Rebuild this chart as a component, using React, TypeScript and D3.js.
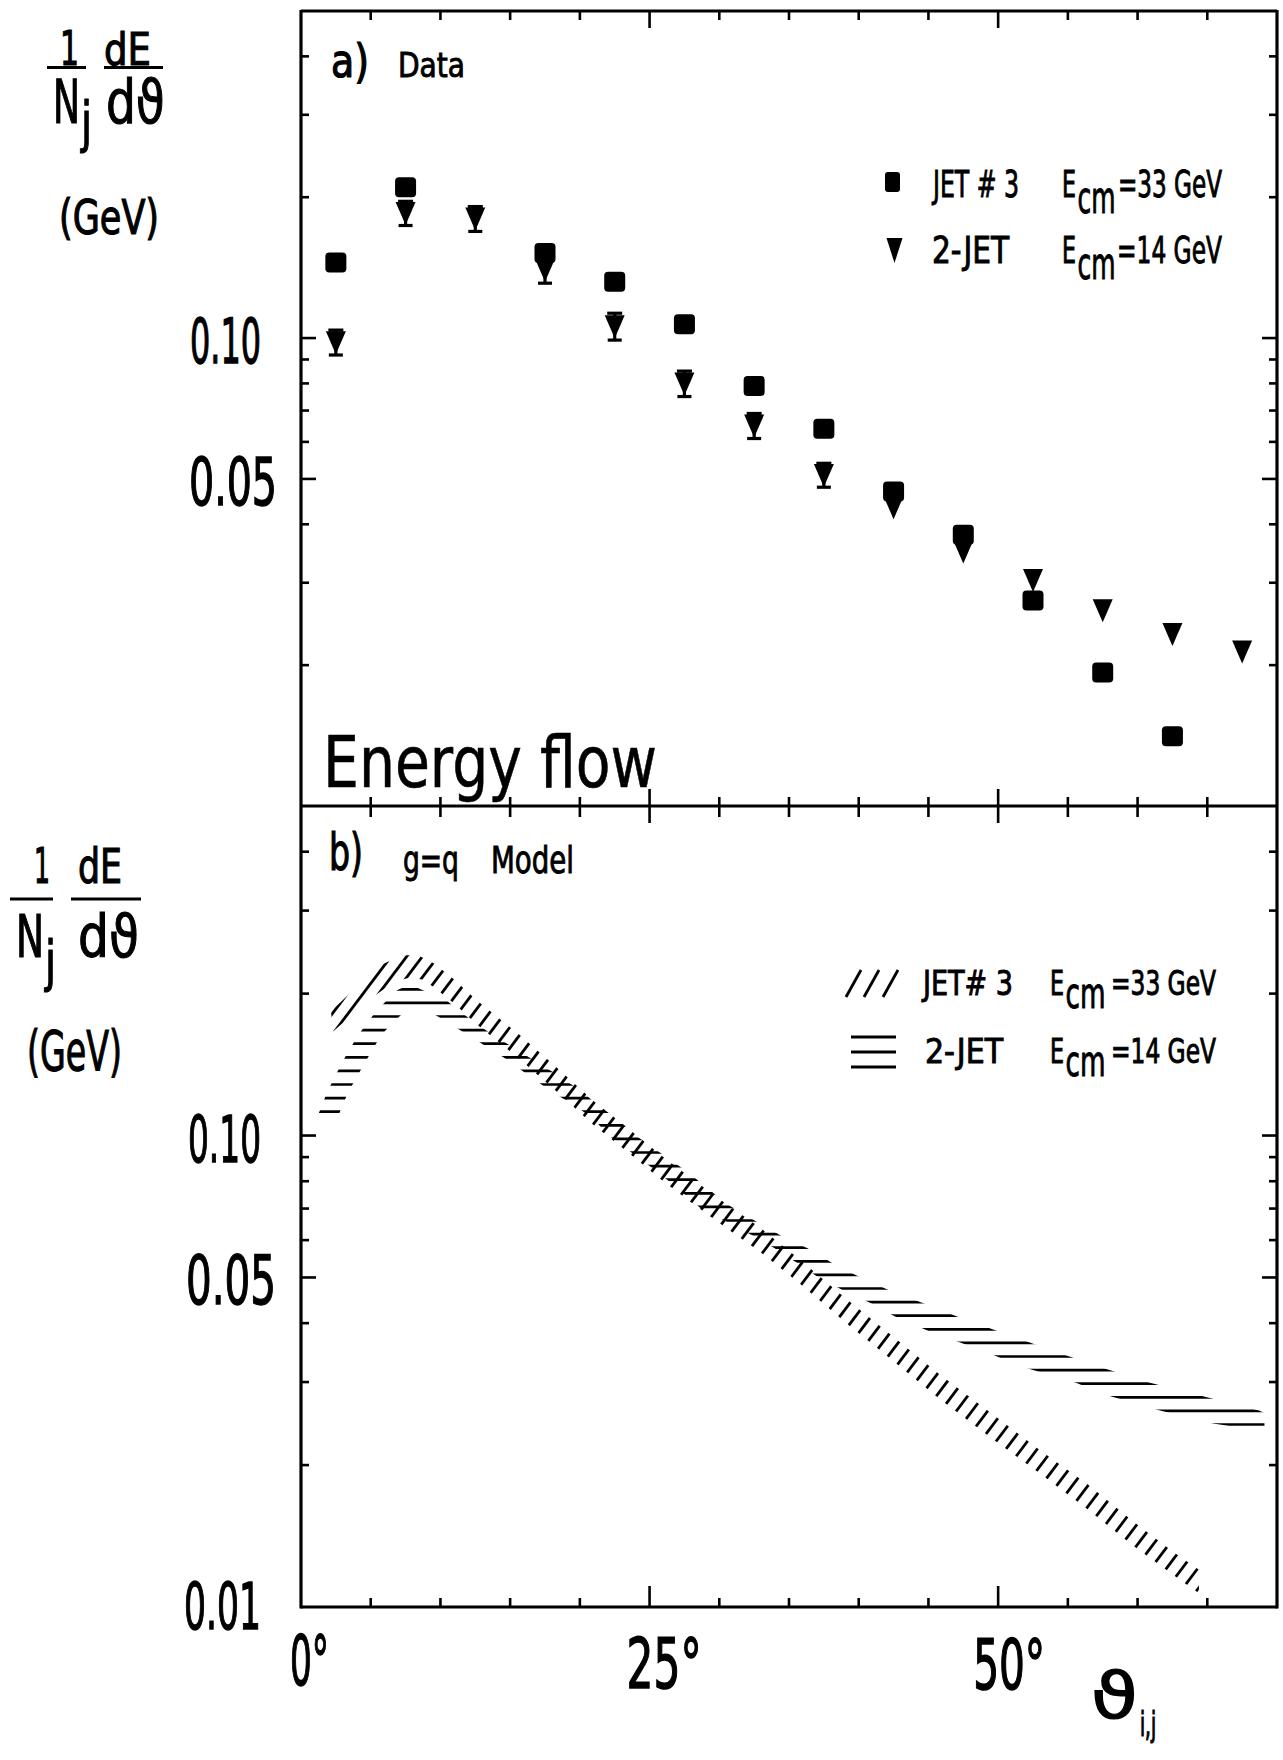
import React from 'react';
import * as d3 from 'd3';

const W = 1283;
const H = 1760;

// ---------- data ----------
// panel a) measured energy flow
const twoJetAngles = [2.5, 7.5, 12.5, 17.5, 22.5, 27.5, 32.5, 37.5, 42.5, 47.5, 52.5, 57.5, 62.5, 67.5];
const twoJetValues = [0.098, 0.185, 0.180, 0.140, 0.106, 0.080, 0.065, 0.051, 0.0435, 0.035, 0.0304, 0.0262, 0.0233, 0.0214];
const twoJetErrors = [0.006, 0.011, 0.011, 0.009, 0.007, 0.005, 0.004, 0.003, 0, 0, 0, 0, 0, 0];

const jet3Angles = [2.5, 7.5, 17.5, 22.5, 27.5, 32.5, 37.5, 42.5, 47.5, 52.5, 57.5, 62.5];
const jet3Values = [0.145, 0.210, 0.152, 0.132, 0.107, 0.079, 0.064, 0.047, 0.038, 0.0275, 0.0193, 0.0141];

// panel b) model bands
const jet3BandUpperDeg = [2.15, 3.44, 5.81, 7.24, 8.39, 9.54, 10.9, 12.62, 15.71, 18.58, 20.94, 23.38, 25.75, 28.11, 30.55, 32.92, 35.79, 39.16, 42.39, 45.83, 49.63, 53.0, 56.44, 59.67, 62.54, 64.4];
const jet3BandUpper = [0.1834, 0.1993, 0.2307, 0.2411, 0.2411, 0.2318, 0.2154, 0.1935, 0.1631, 0.1374, 0.1187, 0.104, 0.0911, 0.0807, 0.0714, 0.0638, 0.0545, 0.0449, 0.0376, 0.0311, 0.0256, 0.0215, 0.0182, 0.0152, 0.0131, 0.0120];
const jet3BandLowerDeg = [2.3, 5.09, 6.74, 7.82, 8.68, 9.54, 10.9, 12.62, 15.71, 18.58, 20.94, 23.38, 25.75, 28.11, 30.55, 32.92, 35.79, 39.16, 42.39, 45.83, 49.63, 53.0, 56.44, 59.67, 62.54, 64.4];
const jet3BandLower = [0.1663, 0.1963, 0.2123, 0.2165, 0.2144, 0.2062, 0.1916, 0.1721, 0.145, 0.1222, 0.1055, 0.0925, 0.081, 0.0717, 0.0635, 0.0567, 0.0485, 0.0399, 0.0334, 0.0276, 0.0227, 0.0192, 0.0161, 0.0135, 0.0117, 0.0107];

const twoJetBandUpperDeg = [1.25, 1.86, 2.94, 4.09, 5.38, 6.89, 7.8, 8.75, 10.54, 11.19, 12.48, 13.7, 16.2, 18.58, 20.22, 21.23, 22.52, 24.1, 27.68, 30.56, 32.95, 34.57, 36.36, 38.16, 39.88, 42.1, 44.54, 47.05, 50.49, 53.5, 57.3, 60.89, 64.48, 68.71, 69.1];
const twoJetBandUpper = [0.111, 0.1234, 0.1429, 0.1631, 0.1834, 0.2032, 0.209, 0.2032, 0.1925, 0.1851, 0.1737, 0.1638, 0.1475, 0.1335, 0.1234, 0.1164, 0.1092, 0.0995, 0.0839, 0.0715, 0.0649, 0.061, 0.0576, 0.0535, 0.0504, 0.0471, 0.0442, 0.0413, 0.038, 0.0353, 0.0323, 0.0299, 0.0281, 0.0261, 0.0258];
const twoJetBandLowerDeg = [1.25, 2.65, 3.37, 4.59, 5.74, 6.6, 7.46, 8.2, 8.97, 10.54, 11.91, 13.41, 14.99, 16.42, 18.07, 19.51, 20.87, 22.16, 25.53, 26.68, 28.62, 30.8, 32.56, 34.0, 35.65, 36.94, 38.8, 40.81, 42.6, 45.47, 48.55, 51.78, 55.58, 57.88, 61.61, 65.41, 69.1];
const twoJetBandLower = [0.1075, 0.1097, 0.1234, 0.1429, 0.1631, 0.1737, 0.1834, 0.188, 0.1851, 0.1737, 0.1638, 0.1538, 0.1436, 0.1335, 0.1234, 0.1164, 0.1092, 0.0995, 0.0839, 0.0787, 0.0703, 0.065, 0.061, 0.0576, 0.0535, 0.0504, 0.0471, 0.0442, 0.0413, 0.038, 0.0353, 0.0323, 0.0299, 0.0281, 0.0261, 0.0245, 0.0236];

// ticks
const yMajorTicksTop = [0.10, 0.05];
const yMajorTicksBottom = [0.10, 0.05, 0.01];
const yMinorTicks = [0.02, 0.03, 0.04, 0.06, 0.07, 0.08, 0.09, 0.2, 0.3, 0.4];
const xMajorTicks = [0, 25, 50];
const xMinorTicks = [5, 10, 15, 20, 30, 35, 40, 45, 55, 60, 65];

// ---------- scales ----------
const x = d3.scaleLinear().domain([0, 70]).range([301, 1277]);
const yTop = d3.scaleLog().domain([0.01, 0.5]).range([806, 11]);
const yBot = d3.scaleLog().domain([0.01, 0.5]).range([1607, 806]);

const FONT = "'DejaVu Sans Condensed', 'Liberation Sans Narrow', 'DejaVu Sans', sans-serif";
const FONT_WIDE = "'DejaVu Sans', 'Open Sans', sans-serif";
const fmt = d3.format('.2f');

function T({ x: tx, y: ty, w, size, children, family, sw }: any) {
  return (
    <text x={tx} y={ty} fontSize={size} textLength={w} lengthAdjust="spacingAndGlyphs"
      fontFamily={family || FONT} fill="#000" stroke="#000" strokeWidth={sw ?? 0.9}>{children}</text>
  );
}

// a text made of positioned parts (main + subscript) in one element
function Parts({ parts, sw }: any) {
  return (
    <text fontFamily={FONT} fill="#000" stroke="#000" strokeWidth={sw ?? 0.9}>
      {parts.map((p: any, i: number) => (
        <tspan key={i} x={p.x} y={p.y} fontSize={p.size} textLength={p.w} lengthAdjust="spacingAndGlyphs">{p.t}</tspan>
      ))}
    </text>
  );
}

function bandPath(upD: number[], upV: number[], loD: number[], loV: number[], y: any) {
  const pts: [number, number][] = upD.map((d, i) => [x(d), y(upV[i])] as [number, number])
    .concat(loD.map((d, i) => [x(d), y(loV[i])] as [number, number]).reverse());
  return (d3.line()(pts) as string) + 'Z';
}

function diagonalHatch(angleDeg: number, spacing: number) {
  const a = (angleDeg * Math.PI) / 180;
  const s = Math.sin(a), c = Math.cos(a);
  const cmin = s * 301 + c * 806;
  const cmax = s * 1277 + c * 1607;
  const lines: number[][] = [];
  for (let k = cmin; k <= cmax; k += spacing) {
    const px = s * k, py = c * k;
    lines.push([px - 2500 * c, py + 2500 * s, px + 2500 * c, py - 2500 * s]);
  }
  return lines;
}

function horizontalHatch(start: number, spacing: number, stop: number) {
  const ys: number[] = [];
  for (let y = start; y >= stop; y -= spacing) ys.push(y);
  return ys;
}

function YTicks({ y, majors }: any) {
  const els: any[] = [];
  majors.forEach((v: number, i: number) => {
    els.push(<line key={'ml' + i} x1={x(0)} x2={x(0) + 15} y1={y(v)} y2={y(v)} />);
    els.push(<line key={'mr' + i} x1={x(70)} x2={x(70) - 15} y1={y(v)} y2={y(v)} />);
  });
  yMinorTicks.forEach((v, i) => {
    els.push(<line key={'nl' + i} x1={x(0)} x2={x(0) + 8} y1={y(v)} y2={y(v)} />);
    els.push(<line key={'nr' + i} x1={x(70)} x2={x(70) - 8} y1={y(v)} y2={y(v)} />);
  });
  return <g stroke="#000" strokeWidth={2.6}>{els}</g>;
}

export default function App() {
  const jet3Poly = bandPath(jet3BandUpperDeg, jet3BandUpper, jet3BandLowerDeg, jet3BandLower, yBot);
  const twoJetPoly = bandPath(twoJetBandUpperDeg, twoJetBandUpper, twoJetBandLowerDeg, twoJetBandLower, yBot);
  const diag = diagonalHatch(53, 12.5);
  const horiz = horizontalHatch(1424.5, 13.6, 820);

  const xTickEls: any[] = [];
  const addX = (v: number, major: boolean, key: string) => {
    const xx = x(v);
    const lTop = major ? 17 : 9;
    const lDivUp = major ? 17 : 9;
    const lDivDn = major ? 17 : 11;
    const lBot = major ? 21 : 9;
    xTickEls.push(<line key={key + 't'} x1={xx} x2={xx} y1={11} y2={11 + lTop} />);
    xTickEls.push(<line key={key + 'u'} x1={xx} x2={xx} y1={806} y2={806 - lDivUp} />);
    xTickEls.push(<line key={key + 'd'} x1={xx} x2={xx} y1={806} y2={806 + lDivDn} />);
    xTickEls.push(<line key={key + 'b'} x1={xx} x2={xx} y1={1607} y2={1607 - lBot} />);
  };
  xMajorTicks.filter((v) => v > 0).forEach((v) => addX(v, true, 'M' + v));
  xMinorTicks.forEach((v) => addX(v, false, 'm' + v));

  return (
    <svg width={W} height={H} viewBox={`0 0 ${W} ${H}`}
      style={{ position: 'absolute', left: 0, top: 0, display: 'block', background: '#fff' }}>
      <rect x={0} y={0} width={W} height={H} fill="#fff" />
      <defs>
        <clipPath id="clipJet3"><path d={jet3Poly} /></clipPath>
        <clipPath id="clipTwoJet"><path d={twoJetPoly} /></clipPath>
      </defs>

      {/* ---------- panel b) bands ---------- */}
      <g clipPath="url(#clipTwoJet)" stroke="#000" strokeWidth={2.7}>
        {horiz.map((yy, i) => (
          <line key={'h' + i} x1={301} x2={1277} y1={yy} y2={yy} />
        ))}
      </g>
      <g clipPath="url(#clipJet3)" stroke="#000" strokeWidth={2.8}>
        {diag.map((l, i) => (
          <line key={'dg' + i} x1={l[0]} y1={l[1]} x2={l[2]} y2={l[3]} />
        ))}
      </g>

      {/* ---------- panel a) markers ---------- */}
      <g fill="#000">
        {jet3Angles.map((a, i) => (
          <rect key={'sq' + i} x={x(a) - 10.5} y={yTop(jet3Values[i]) - 10} width={21} height={20} rx={4} />
        ))}
        {twoJetAngles.map((a, i) => {
          const cx = x(a);
          const cy = yTop(twoJetValues[i]);
          const e = twoJetErrors[i];
          return (
            <g key={'tr' + i}>
              <path d={`M${cx - 10},${cy - 11} L${cx + 10},${cy - 11} L${cx},${cy + 12} Z`} />
              {e > 0 && (
                <g stroke="#000" strokeWidth={3.2}>
                  <line x1={cx} x2={cx} y1={yTop(twoJetValues[i] + e)} y2={yTop(twoJetValues[i] - e)} />
                  <line x1={cx - 7.5} x2={cx + 7.5} y1={yTop(twoJetValues[i] + e)} y2={yTop(twoJetValues[i] + e)} />
                  <line x1={cx - 7} x2={cx + 7} y1={yTop(twoJetValues[i] - e)} y2={yTop(twoJetValues[i] - e)} />
                </g>
              )}
            </g>
          );
        })}
      </g>

      {/* ---------- frames ---------- */}
      <g stroke="#000" strokeWidth={3.2} fill="none">
        <line x1={x(0)} x2={x(0)} y1={10} y2={1608.5} />
        <line x1={x(70)} x2={x(70)} y1={10} y2={1608.5} />
        <line x1={x(0)} x2={x(70)} y1={11} y2={11} />
        <line x1={x(0)} x2={x(70)} y1={806} y2={806} />
        <line x1={x(0)} x2={x(70)} y1={1607} y2={1607} />
      </g>
      <g stroke="#000" strokeWidth={2.6}>{xTickEls}</g>
      <YTicks y={yTop} majors={yMajorTicksTop} />
      <YTicks y={yBot} majors={yMajorTicksBottom.filter((v) => v > 0.01)} />

      {/* ---------- y tick labels ---------- */}
      <T x={190} y={yTop(yMajorTicksTop[0]) + 25} w={71} size={63} sw={1.3}>{fmt(yMajorTicksTop[0])}</T>
      <T x={189} y={yTop(yMajorTicksTop[1]) + 26} w={88} size={66} sw={1.3}>{fmt(yMajorTicksTop[1])}</T>
      <T x={188} y={yBot(yMajorTicksBottom[0]) + 26} w={73} size={64} sw={1.3}>{fmt(yMajorTicksBottom[0])}</T>
      <T x={186} y={yBot(yMajorTicksBottom[1]) + 27} w={90} size={68} sw={1.3}>{fmt(yMajorTicksBottom[1])}</T>
      <T x={184} y={yBot(yMajorTicksBottom[2]) + 22} w={77} size={64} sw={1.3}>{fmt(yMajorTicksBottom[2])}</T>

      {/* ---------- x tick labels ---------- */}
      <T x={x(xMajorTicks[0]) - 11} y={1685} w={39} size={70} sw={1.4}>{`${xMajorTicks[0]}°`}</T>
      <T x={x(xMajorTicks[1]) - 23} y={1688} w={75} size={70} sw={1.4}>{`${xMajorTicks[1]}°`}</T>
      <T x={x(xMajorTicks[2]) - 25} y={1689} w={72} size={70} sw={1.4}>{`${xMajorTicks[2]}°`}</T>
      <Parts sw={1.2} parts={[
        { t: 'ϑ', x: 1091, y: 1718, w: 47, size: 64 },
        { t: 'i,j', x: 1140, y: 1736, w: 16, size: 34 },
      ]} />

      {/* ---------- y axis titles ---------- */}
      <T x={60} y={65} w={19} size={48} sw={1.2}>1</T>
      <T x={104} y={65} w={47} size={45} sw={1.1}>dE</T>
      <line x1={47} x2={86} y1={67.5} y2={67.5} stroke="#000" strokeWidth={2.8} />
      <line x1={104} x2={163} y1={67.5} y2={67.5} stroke="#000" strokeWidth={2.8} />
      <Parts sw={1.1} parts={[
        { t: 'N', x: 53, y: 123, w: 27, size: 60 },
        { t: 'j', x: 81, y: 141, w: 11, size: 56 },
      ]} />
      <T x={106} y={123} w={59} size={60} sw={1.1}>dϑ</T>
      <T x={59} y={234} w={100} size={48} sw={1.1}>(GeV)</T>

      <T x={34} y={883} w={16} size={50} sw={1.2}>1</T>
      <T x={78} y={883} w={44} size={48} sw={1.1}>dE</T>
      <line x1={10} x2={53} y1={899} y2={899} stroke="#000" strokeWidth={2.8} />
      <line x1={71} x2={141} y1={899} y2={899} stroke="#000" strokeWidth={2.8} />
      <Parts sw={1.1} parts={[
        { t: 'N', x: 16, y: 957, w: 28, size: 58 },
        { t: 'j', x: 45, y: 980, w: 11, size: 56 },
      ]} />
      <T x={78} y={957} w={61} size={58} sw={1.1}>dϑ</T>
      <T x={27} y={1070} w={95} size={56} sw={1.1}>(GeV)</T>

      {/* ---------- panel a) annotations ---------- */}
      <T x={331} y={77} w={38} size={46} sw={1.2}>a)</T>
      <T x={398} y={77} w={67} size={34}>Data</T>
      <T x={323} y={787} w={334} size={71} family={FONT_WIDE} sw={0.6}>Energy flow</T>

      <rect x={885} y={172} width={15} height={20} rx={3} fill="#000" />
      <T x={933} y={197} w={86} size={37}>JET # 3</T>
      <Parts parts={[
        { t: 'E', x: 1062, y: 197, w: 14, size: 37 },
        { t: 'cm', x: 1077.5, y: 213, w: 38, size: 44 },
        { t: '=33 GeV', x: 1118, y: 197, w: 104, size: 37 },
      ]} />

      <path d="M886.5,238 L902.5,238 L894.5,263 Z" fill="#000" />
      <T x={932} y={263} w={77} size={37}>2-JET</T>
      <Parts parts={[
        { t: 'E', x: 1062, y: 263, w: 14, size: 37 },
        { t: 'cm', x: 1077.5, y: 279, w: 38, size: 44 },
        { t: '=14 GeV', x: 1117, y: 263, w: 105, size: 37 },
      ]} />

      {/* ---------- panel b) annotations ---------- */}
      <T x={329} y={870} w={34} size={52} sw={1.2}>b)</T>
      <T x={403} y={873} w={56} size={38}>g=q</T>
      <T x={491} y={873} w={83} size={38}>Model</T>

      <g stroke="#000" strokeWidth={2.8}>
        <line x1={846} y1={997} x2={861} y2={970} />
        <line x1={864} y1={997} x2={879} y2={970} />
        <line x1={883} y1={997} x2={898} y2={970} />
        <line x1={851} x2={896} y1={1037} y2={1037} />
        <line x1={851} x2={896} y1={1052} y2={1052} />
        <line x1={851} x2={896} y1={1067} y2={1067} />
      </g>
      <T x={923} y={995} w={90} size={34}>JET# 3</T>
      <Parts parts={[
        { t: 'E', x: 1050, y: 995, w: 14, size: 34 },
        { t: 'cm', x: 1065.5, y: 1008, w: 40, size: 42 },
        { t: '=33 GeV', x: 1111, y: 995, w: 105, size: 34 },
      ]} />
      <T x={925} y={1063} w={78} size={34}>2-JET</T>
      <Parts parts={[
        { t: 'E', x: 1050, y: 1063, w: 14, size: 34 },
        { t: 'cm', x: 1065.5, y: 1076, w: 40, size: 42 },
        { t: '=14 GeV', x: 1111, y: 1063, w: 105, size: 34 },
      ]} />
    </svg>
  );
}
